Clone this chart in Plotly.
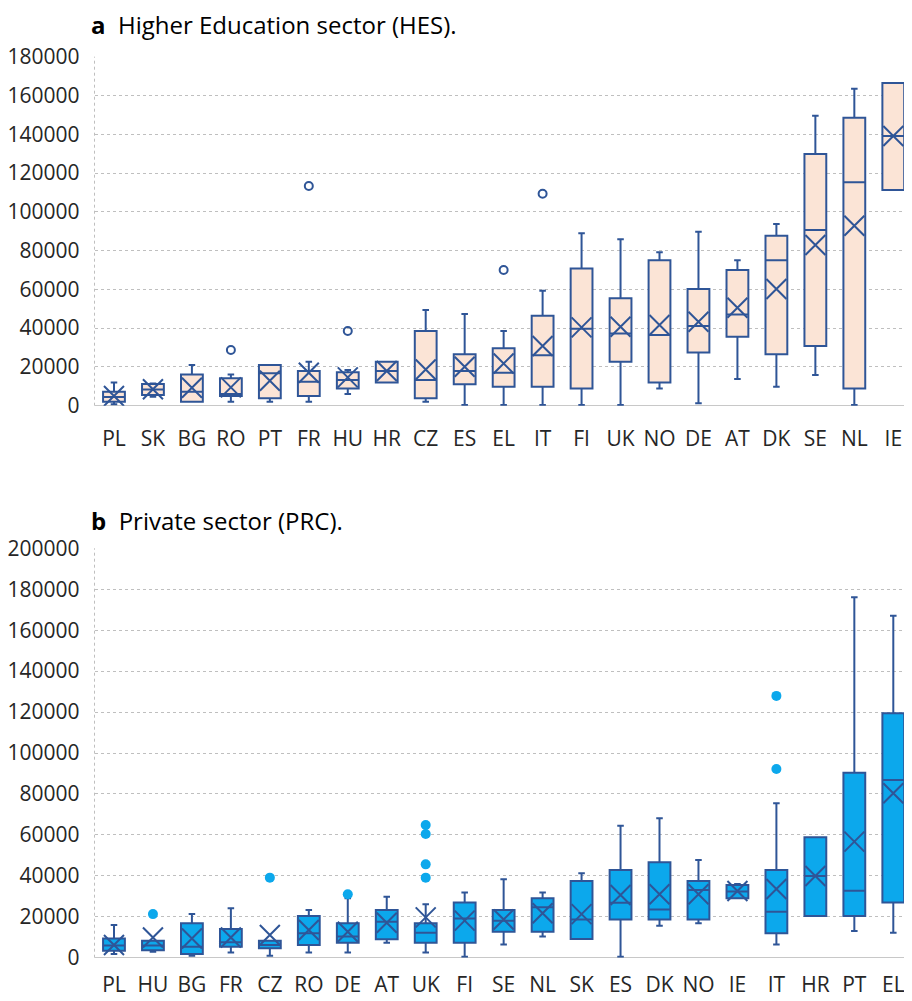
import plotly.graph_objects as go
from plotly.subplots import make_subplots

# ---- Panel a: Higher Education sector (HES) ----
hes_cats = ["PL", "SK", "BG", "RO", "PT", "FR", "HU", "HR", "CZ", "ES", "EL",
            "IT", "FI", "UK", "NO", "DE", "AT", "DK", "SE", "NL", "IE"]
hes_min = [800, 4600, 2000, 2000, 2000, 2000, 6000, 12000, 2000, 300, 300,
           300, 300, 300, 8900, 1200, 13800, 9800, 15800, 300, 111200]
hes_q1 = [2000, 5500, 2000, 5000, 3800, 5000, 8900, 12000, 3800, 11000, 9800,
          9800, 8900, 22700, 12000, 27500, 35600, 26600, 30800, 8900, 111200]
hes_median = [4500, 8400, 7200, 6000, 16700, 12400, 13200, 17900, 13200, 17900, 17000,
              26000, 39700, 37300, 36400, 41100, 47100, 75000, 90600, 115200, 139100]
hes_q3 = [7200, 11200, 16150, 14100, 21000, 17900, 17200, 22700, 38500, 26600, 29600,
          46400, 70800, 55400, 75000, 60200, 70000, 87700, 129800, 148500, 166400]
hes_max = [12000, 11500, 21000, 16150, 21000, 22700, 18400, 22700, 49300, 47300, 38500,
           59300, 88900, 85800, 79100, 89700, 75000, 93700, 149600, 163500, 166400]
hes_mean = [5000, 8500, 9300, 9450, 12900, 17000, 14600, 17900, 18700, 20100, 21800,
            30800, 40400, 40700, 41600, 43300, 50500, 60200, 82900, 92800, 139100]
hes_out_cat = ["RO", "FR", "HU", "EL", "IT"]
hes_out_val = [28700, 113300, 38500, 70000, 109300]

# ---- Panel b: Private sector (PRC) ----
prc_cats = ["PL", "HU", "BG", "FR", "CZ", "RO", "DE", "AT", "UK", "FI", "SE",
            "NL", "SK", "ES", "DK", "NO", "IE", "IT", "HR", "PT", "EL"]
prc_min = [1800, 2900, 1000, 2600, 1000, 2600, 2600, 7300, 2600, 500, 6500,
           10300, 9100, 500, 15600, 16800, 29000, 6500, 20400, 13000, 12200]
prc_q1 = [3400, 3700, 1800, 5400, 4600, 6200, 7300, 9000, 7300, 7300, 12700,
          12700, 9100, 18700, 18700, 18700, 29000, 11900, 20400, 20400, 27000]
prc_median = [5900, 5900, 5400, 7500, 6200, 11900, 10300, 17600, 12200, 19200, 18100,
              24600, 18700, 26900, 23600, 33100, 32300, 22500, 39900, 32700, 86800]
prc_q3 = [9400, 8300, 16800, 14000, 8300, 20400, 16800, 23300, 16800, 27000, 23300,
          29000, 37500, 42800, 46600, 37500, 35500, 42800, 58800, 90400, 119400]
prc_max = [16000, 8300, 21300, 24100, 8300, 23300, 29000, 29800, 26100, 31800, 38300,
           31800, 41200, 64500, 68100, 47700, 36000, 75400, 58800, 176100, 167000]
prc_mean = [6200, 9900, 9400, 9900, 11100, 13500, 12700, 17100, 19700, 18100, 18700,
            21700, 21300, 30600, 31000, 31000, 32600, 33600, 39900, 56700, 80300]
prc_out_cat = ["HU", "CZ", "DE", "UK", "UK", "UK", "UK", "IT", "IT"]
prc_out_val = [21300, 39100, 31000, 64800, 60400, 45600, 39100, 127900, 92200]

hes_ticks = [0, 20000, 40000, 60000, 80000, 100000, 120000, 140000, 160000, 180000]
prc_ticks = [0, 20000, 40000, 60000, 80000, 100000, 120000, 140000, 160000, 180000, 200000]

LINE = "#2F5597"
HES_FILL = "#FBE4D6"
PRC_FILL = "#0CA8EC"
FONT = "Open Sans"
TXT = "#262626"
TICK = 21

fig = make_subplots(rows=2, cols=1, shared_xaxes=False)

fig.add_trace(go.Box(
    x=hes_cats, q1=hes_q1, median=hes_median, q3=hes_q3,
    lowerfence=hes_min, upperfence=hes_max,
    fillcolor=HES_FILL, line=dict(color=LINE, width=2),
    width=0.56, whiskerwidth=0.3, boxpoints=False, showlegend=False,
    hoverinfo="skip"), row=1, col=1)
fig.add_trace(go.Scatter(
    x=hes_cats, y=hes_mean, mode="markers",
    marker=dict(symbol="x-thin", size=20, line=dict(color=LINE, width=2)),
    showlegend=False, hoverinfo="skip"), row=1, col=1)
fig.add_trace(go.Scatter(
    x=hes_out_cat, y=hes_out_val, mode="markers",
    marker=dict(symbol="circle-open", size=8, line=dict(color=LINE, width=2), color=LINE),
    showlegend=False, hoverinfo="skip"), row=1, col=1)

fig.add_trace(go.Box(
    x=prc_cats, q1=prc_q1, median=prc_median, q3=prc_q3,
    lowerfence=prc_min, upperfence=prc_max,
    fillcolor=PRC_FILL, line=dict(color=LINE, width=2),
    width=0.56, whiskerwidth=0.3, boxpoints=False, showlegend=False,
    hoverinfo="skip"), row=2, col=1)
fig.add_trace(go.Scatter(
    x=prc_cats, y=prc_mean, mode="markers",
    marker=dict(symbol="x-thin", size=20, line=dict(color=LINE, width=2)),
    showlegend=False, hoverinfo="skip"), row=2, col=1)
fig.add_trace(go.Scatter(
    x=prc_out_cat, y=prc_out_val, mode="markers",
    marker=dict(symbol="circle", size=10, color=PRC_FILL),
    showlegend=False, hoverinfo="skip"), row=2, col=1)

# page has an 8px body margin; figure pixel = page pixel - 8
OFF = 8.0
W = 904.0
H = 993.0
def py(p):
    return 1 - (p - OFF) / H
xdom = [(94.5 - OFF) / W, 1.0]
common_x = dict(showgrid=False, ticks="", automargin=False, range=[-0.5, 20.48],
                tickfont=dict(size=TICK, color=TXT))
common_y = dict(showgrid=True, gridcolor="#BFBFBF", griddash="dot", gridwidth=1,
                zeroline=True, zerolinecolor="#C8C8C8", zerolinewidth=1,
                automargin=False, tickfont=dict(size=TICK, color=TXT),
                ticklabelstandoff=14)
fig.update_layout(
    width=int(W), height=int(H),
    margin=dict(l=0, r=0, t=0, b=0, autoexpand=False),
    paper_bgcolor="white", plot_bgcolor="white",
    font=dict(family=FONT, size=TICK, color=TXT),
    xaxis=dict(domain=xdom, anchor="y", categoryorder="array", categoryarray=hes_cats,
               ticklabelstandoff=18, **common_x),
    yaxis=dict(domain=[py(405.7), py(56.7)], range=[0, 180000],
               tickvals=hes_ticks, ticktext=[str(v) for v in hes_ticks], **common_y),
    xaxis2=dict(domain=xdom, anchor="y2", categoryorder="array", categoryarray=prc_cats,
                ticklabelstandoff=12, **common_x),
    yaxis2=dict(domain=[py(957.7), py(548.3)], range=[0, 200000],
                tickvals=prc_ticks, ticktext=[str(v) for v in prc_ticks], **common_y),
)

# left border dotted lines of each plot area
for xr, yr in [("x domain", "y domain"), ("x2 domain", "y2 domain")]:
    fig.add_shape(type="line", xref=xr, yref=yr, x0=0, x1=0, y0=0, y1=1,
                  line=dict(color="#BFBFBF", width=1, dash="dot"))

fig.add_annotation(text="<b>a</b>  Higher Education sector (HES).", xref="paper", yref="paper",
                   x=(89 - OFF) / W, y=py(24.5), xanchor="left", yanchor="middle",
                   showarrow=False, font=dict(family=FONT, size=24, color="#000000"))
fig.add_annotation(text="<b>b</b>  Private sector (PRC).", xref="paper", yref="paper",
                   x=(89 - OFF) / W, y=py(520), xanchor="left", yanchor="middle",
                   showarrow=False, font=dict(family=FONT, size=24, color="#000000"))

fig.write_html("out.html")
